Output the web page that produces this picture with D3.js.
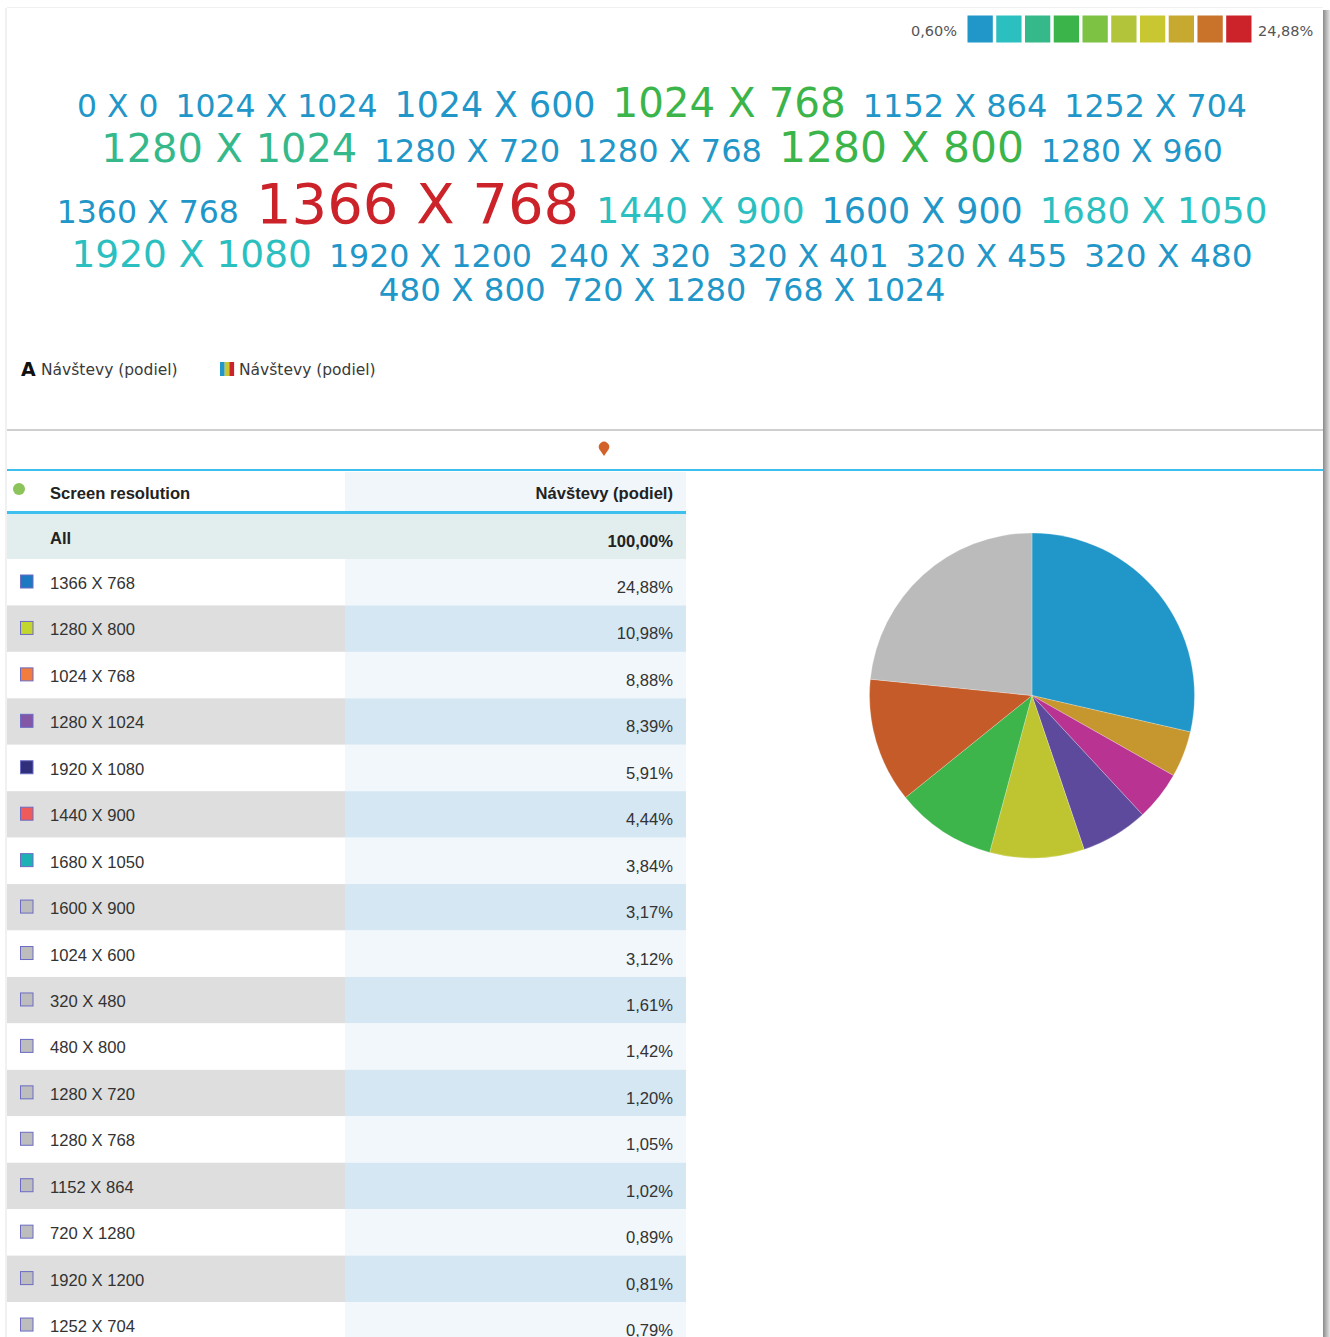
<!DOCTYPE html>
<html><head><meta charset="utf-8">
<script src="https://cdn.jsdelivr.net/npm/d3@7"></script>
<style>html,body{margin:0;padding:0;background:#fff;}svg{display:block;}</style>
</head><body>
<svg id="chart" width="1330" height="1337"></svg>
<script>
// ---------- DATA ----------
const legendMin = "0,60%";
const legendMax = "24,88%";
const scalePalette = ["#2196c8","#2bbfc0","#35b98a","#3bb54a","#7dc242","#b2c43a","#c9c731","#c6a92e","#c8722a","#cc2229"];

const cloudWords = ["0 X 0","1024 X 1024","1024 X 600","1024 X 768","1152 X 864","1252 X 704",
  "1280 X 1024","1280 X 720","1280 X 768","1280 X 800","1280 X 960","1360 X 768","1366 X 768",
  "1440 X 900","1600 X 900","1680 X 1050","1920 X 1080","1920 X 1200","240 X 320","320 X 401",
  "320 X 455","320 X 480","480 X 800","720 X 1280","768 X 1024"];
const cloudShares = [0.62,0.70,3.12,8.88,1.02,0.79,8.39,1.20,1.05,10.98,0.66,0.72,24.88,4.44,3.17,3.84,5.91,0.81,0.64,0.60,0.61,1.61,1.42,0.89,0.68];

const seriesName = "Návštevy (podiel)";
const dimensionName = "Screen resolution";
const totalShare = 100.00;
const resolutions = ["1366 X 768","1280 X 800","1024 X 768","1280 X 1024","1920 X 1080","1440 X 900",
  "1680 X 1050","1600 X 900","1024 X 600","320 X 480","480 X 800","1280 X 720","1280 X 768",
  "1152 X 864","720 X 1280","1920 X 1200","1252 X 704"];
const shares = [24.88,10.98,8.88,8.39,5.91,4.44,3.84,3.17,3.12,1.61,1.42,1.20,1.05,1.02,0.89,0.81,0.79];
const rowSwatchColors = ["#1c78c0","#c3d62e","#f27c3e","#8456a6","#2f2f7c","#ef5a5a","#1cb2b4"];
const otherSwatch = "#bdbdbd";

const pieShares = [28.6,4.6,4.9,6.7,9.4,10.0,12.4,23.4];
const pieColors = ["#2196c8","#c6972f","#b83392","#5e4a9c","#bfc530","#3db54a","#c45b28","#bbbbbb"];

// ---------- SETUP ----------
const svg = d3.select("#chart");
const locale = d3.formatLocale({decimal:",", thousands:" ", grouping:[3], currency:["","€"]});
const pct = v => locale.format(".2f")(v) + "%";

// card + shadow
const defs = svg.append("defs");
const sg = defs.append("linearGradient").attr("id","shadowR").attr("x1","0").attr("x2","1");
sg.append("stop").attr("offset","0").attr("stop-color","#8a8a8a");
sg.append("stop").attr("offset","1").attr("stop-color","#e6e6e6");
svg.append("rect").attr("x",0).attr("y",0).attr("width",1330).attr("height",1337).attr("fill","#fff");
svg.append("rect").attr("x",1323).attr("y",10).attr("width",7).attr("height",1327).attr("fill","url(#shadowR)");
svg.append("rect").attr("x",7).attr("y",7).attr("width",1316).attr("height",1).attr("fill","#f0f0f0");
svg.append("rect").attr("x",5).attr("y",8).attr("width",2).attr("height",1329).attr("fill","#f1f1f1");

// ---------- COLOR LEGEND ----------
const boxScale = d3.scaleBand().domain(d3.range(scalePalette.length)).range([967.5, 1251.5]).paddingInner(0.12);
svg.append("g").selectAll("rect").data(scalePalette).join("rect")
  .attr("x",(d,i)=>boxScale(i)).attr("y",15.5).attr("width",boxScale.bandwidth()).attr("height",27)
  .attr("fill",d=>d);
svg.append("text").attr("x",957).attr("y",36).attr("text-anchor","end")
  .attr("font-family","DejaVu Sans").attr("font-size",14.5).attr("fill","#555").text(legendMin);
svg.append("text").attr("x",1258).attr("y",36)
  .attr("font-family","DejaVu Sans").attr("font-size",14.5).attr("fill","#555").text(legendMax);

// ---------- WORD CLOUD ----------
const sizeScale = d3.scaleLinear().domain([0.6, 3.12, 24.88]).range([31.4, 34.8, 56]);
const colorScale = d3.scaleThreshold().domain([3.5, 7.5, 8.6, 12.5, 14.9, 17.4, 19.8, 22.2, 24.6]).range(scalePalette);
const words = cloudWords.map((w,i)=>({text:w, v:cloudShares[i]}));
const measure = svg.append("text").attr("font-family","DejaVu Sans").attr("visibility","hidden");
words.forEach(d=>{ measure.attr("font-size", sizeScale(d.v)).text(d.text); d.w = measure.node().getComputedTextLength(); });
measure.remove();
const gap = 17, maxW = 1245, cx = 662;
const rows = [];
let cur = [], curW = 0;
words.forEach(d=>{
  const add = cur.length ? gap + d.w : d.w;
  if (cur.length && curW + add > maxW) { rows.push({items:cur, w:curW}); cur=[d]; curW=d.w; }
  else { cur.push(d); curW += add; }
});
if (cur.length) rows.push({items:cur, w:curW});
const baselines = [117, 162, 223, 267, 301];
const cloud = svg.append("g").attr("font-family","DejaVu Sans");
rows.forEach((r,ri)=>{
  let x = cx - r.w/2;
  const y = ri < baselines.length ? baselines[ri] : baselines[baselines.length-1] + 36*(ri-baselines.length+1);
  r.items.forEach(d=>{
    cloud.append("text").attr("x",x).attr("y",y).attr("font-size",sizeScale(d.v))
      .attr("fill",colorScale(d.v)).text(d.text);
    x += d.w + gap;
  });
});

// ---------- SERIES LEGEND ----------
svg.append("text").attr("x",21).attr("y",375.5).attr("font-family","DejaVu Sans").attr("font-weight","bold")
  .attr("font-size",19).attr("fill","#111").text("A");
svg.append("text").attr("x",41).attr("y",374.5).attr("font-family","DejaVu Sans").attr("font-size",15.5)
  .attr("fill","#3a3a3a").text(seriesName);
const iconCols = [scalePalette[0], scalePalette[6], scalePalette[9]];
svg.append("g").selectAll("rect").data(iconCols).join("rect")
  .attr("x",(d,i)=>220+i*4.7).attr("y",362).attr("width",4.7).attr("height",14).attr("fill",d=>d);
svg.append("text").attr("x",239).attr("y",374.5).attr("font-family","DejaVu Sans").attr("font-size",15.5)
  .attr("fill","#3a3a3a").text(seriesName);

// ---------- SEPARATORS ----------
svg.append("rect").attr("x",7).attr("y",429).attr("width",1316).attr("height",2).attr("fill","#cfcfcf");
svg.append("path").attr("d","M604,456 L599.5,449.5 A5.2,5.2 0 1 1 608.5,449.5 Z").attr("fill","#d2622a");
svg.append("rect").attr("x",7).attr("y",469).attr("width",1316).attr("height",2).attr("fill","#3ec0ee");

// ---------- TABLE ----------
const tX0 = 7, tX1 = 345, tX2 = 686;
const fs = 16.6;
const tbl = svg.append("g").attr("font-family","Liberation Sans, Arial, sans-serif");
// header
tbl.append("rect").attr("x",tX1).attr("y",472).attr("width",tX2-tX1).attr("height",40).attr("fill","#f0f6fa");
tbl.append("circle").attr("cx",19).attr("cy",489).attr("r",6).attr("fill","#8cc35a");
tbl.append("text").attr("x",50).attr("y",499).attr("font-size",fs).attr("font-weight","bold").attr("fill","#222").text(dimensionName);
tbl.append("text").attr("x",673).attr("y",499).attr("text-anchor","end").attr("font-size",fs).attr("font-weight","bold").attr("fill","#222").text(seriesName);
tbl.append("rect").attr("x",tX0).attr("y",511).attr("width",tX2-tX0).attr("height",3).attr("fill","#3ec0ee");
// All row
tbl.append("rect").attr("x",tX0).attr("y",514).attr("width",tX2-tX0).attr("height",45).attr("fill","#e2eeee");
tbl.append("text").attr("x",50).attr("y",544).attr("font-size",fs).attr("font-weight","bold").attr("fill","#222").text("All");
tbl.append("text").attr("x",673).attr("y",547).attr("text-anchor","end").attr("font-size",fs).attr("font-weight","bold").attr("fill","#222").text(pct(totalShare));
// data rows
const rowY = d3.scaleBand().domain(d3.range(resolutions.length)).range([559, 559 + 46.44*resolutions.length]);
const rowG = tbl.selectAll("g.row").data(resolutions.map((r,i)=>({r, v:shares[i], i}))).join("g")
  .attr("class","row").attr("transform",d=>`translate(0,${rowY(d.i)})`);
rowG.append("rect").attr("x",tX0).attr("y",0).attr("width",tX1-tX0).attr("height",rowY.bandwidth())
  .attr("fill",d=>d.i%2 ? "#dedede" : "#ffffff");
rowG.append("rect").attr("x",tX1).attr("y",0).attr("width",tX2-tX1).attr("height",rowY.bandwidth())
  .attr("fill",d=>d.i%2 ? "#d4e7f3" : "#f2f7fb");
rowG.append("rect").attr("x",20.5).attr("y",16).attr("width",12.5).attr("height",13)
  .attr("fill",d=>d.i < rowSwatchColors.length ? rowSwatchColors[d.i] : otherSwatch)
  .attr("stroke","#6b6bc4").attr("stroke-width",1);
rowG.append("text").attr("x",50).attr("y",30).attr("font-size",fs).attr("fill","#333").text(d=>d.r);
rowG.append("text").attr("x",673).attr("y",34).attr("text-anchor","end").attr("font-size",fs).attr("fill","#333").text(d=>pct(d.v));

// ---------- PIE ----------
const pie = d3.pie().sort(null).value(d=>d)(pieShares);
const arc = d3.arc().innerRadius(0).outerRadius(162.5);
svg.append("g").attr("transform","translate(1032,695.5)")
  .selectAll("path").data(pie).join("path")
  .attr("d",arc).attr("fill",(d,i)=>pieColors[i])
  .attr("stroke","#ffffff").attr("stroke-width",0.4).attr("stroke-opacity",0.6);
</script>
</body></html>
